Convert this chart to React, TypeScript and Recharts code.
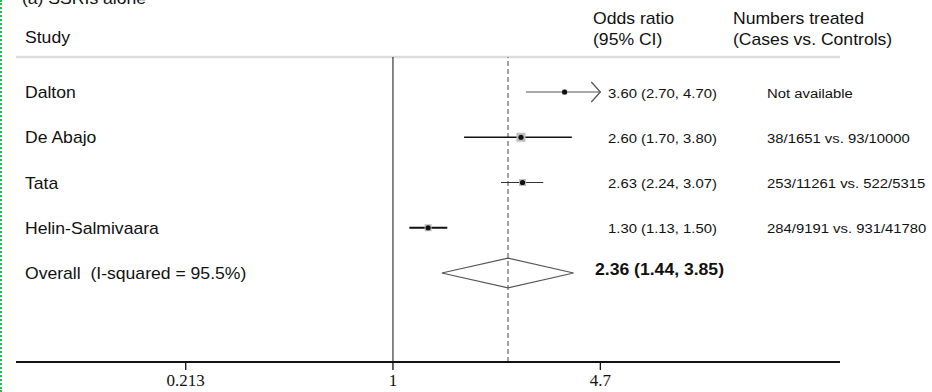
import React from 'react';
import { ComposedChart, Scatter, XAxis, YAxis, ReferenceLine } from 'recharts';

// study rows (odds ratios with 95% CI)
const studies = ['Dalton', 'De Abajo', 'Tata', 'Helin-Salmivaara'];
const oddsRatios = [3.6, 2.6, 2.63, 1.3];
const ciLower = [2.7, 1.7, 2.24, 1.13];
const ciUpper = [4.7, 3.8, 3.07, 1.5];
const orLabels = ['3.60 (2.70, 4.70)', '2.60 (1.70, 3.80)', '2.63 (2.24, 3.07)', '1.30 (1.13, 1.50)'];
const numbersTreated = ['Not available', '38/1651 vs. 93/10000', '253/11261 vs. 522/5315', '284/9191 vs. 931/41780'];

// pooled estimate
const overallLabel = 'Overall\u00a0\u00a0(I-squared = 95.5%)';
const overallOR = 2.36;
const overallLower = 1.44;
const overallUpper = 3.85;
const overallText = '2.36 (1.44, 3.85)';

// axis ticks
const tickValues = [0.213, 1, 4.7];
const tickLabels = ['0.213', '1', '4.7'];

const W = 932;
const H = 392;
const SANS = '"Liberation Sans", Arial, Helvetica, sans-serif';
const SERIF = '"Liberation Serif", "Times New Roman", serif';

// x axis is log-scaled (natural log of odds ratio)
const XMIN = -2.813;
const XMAX = 3.336;
// rows: 0..3 studies, 4 overall; domain covers the area under the header rule
const YMIN = -0.773;
const YMAX = 5.967;
const DIAMOND_H = 0.33;

const boxSize: { [k: string]: number } = { Dalton: 5, 'De Abajo': 9, Tata: 7, 'Helin-Salmivaara': 7 };
const ciColor: { [k: string]: string } = { Dalton: '#555', 'De Abajo': '#111', Tata: '#333', 'Helin-Salmivaara': '#111' };
const ciWidth: { [k: string]: number } = { Dalton: 1.2, 'De Abajo': 1.4, Tata: 1.2, 'Helin-Salmivaara': 2 };

const ln = Math.log;

const pointData = studies.map((s, i) => ({ x: ln(oddsRatios[i]), y: i, name: s }));
const rowText = studies.map((s, i) => ({ x: XMIN, y: i, name: s, or: orLabels[i], n: numbersTreated[i] }));
const diamondData = [
  { x: ln(overallLower), y: 4 },
  { x: ln(overallOR), y: 4 - DIAMOND_H },
  { x: ln(overallUpper), y: 4 },
  { x: ln(overallOR), y: 4 + DIAMOND_H },
  { x: ln(overallLower), y: 4 },
];

// the source figure is slightly stretched horizontally
const T = ({ x, y, size, bold, children }: any) => (
  <text
    transform={`translate(${x},${y}) scale(1.1,1)`}
    dominantBaseline="central"
    fontSize={size}
    fontWeight={bold ? 'bold' : 'normal'}
    fontFamily={SANS}
    fill="#111"
  >
    {children}
  </text>
);

const PointShape = (props: any) => {
  const { cx, cy, payload } = props;
  const s = boxSize[payload.name] || 6;
  return (
    <g>
      <rect x={cx - s / 2} y={cy - s / 2} width={s} height={s} fill="#bdbdbd" />
      <circle cx={cx} cy={cy} r={2.6} fill="#111" />
    </g>
  );
};

const RowTextShape = (props: any) => {
  const { cy, payload } = props;
  return (
    <g>
      <T x={25} y={cy + 1} size={16}>{payload.name}</T>
      <T x={608} y={cy + 1} size={13.5}>{payload.or}</T>
      <T x={767} y={cy + 1} size={13.5}>{payload.n}</T>
    </g>
  );
};

const OverallTextShape = (props: any) => {
  const { cy } = props;
  return (
    <g>
      <T x={25} y={cy + 1} size={16}>{overallLabel}</T>
      <T x={595} y={cy - 3} size={16} bold>{overallText}</T>
    </g>
  );
};

const None = () => <g />;

const ArrowEnd = (props: any) => {
  const { cx, cy, index } = props;
  if (index !== 1) return <g />;
  return <path d={`M${cx - 9},${cy - 10} L${cx},${cy} L${cx - 9},${cy + 10}`} fill="none" stroke="#555" strokeWidth={1.3} />;
};

const App = () => {
  return (
    <div style={{ position: 'absolute', left: 0, top: 0, width: W, height: H, background: '#fff', overflow: 'hidden' }}>
      <div style={{ position: 'absolute', left: 0, top: 0, bottom: 0, borderLeft: '2px dotted #1fbf4c' }} />
      <svg width={W} height={H} style={{ position: 'absolute', left: 0, top: 0 }}>
        <text x={20} y={4} fontSize={16} fontFamily={SANS} fill="#111" transform="scale(1.1,1)">(a) SSRIs alone</text>
        <T x={25} y={38} size={16}>Study</T>
        <T x={593} y={19} size={16}>Odds ratio</T>
        <T x={593} y={40} size={16}>(95% CI)</T>
        <T x={733} y={19} size={16}>Numbers treated</T>
        <T x={733} y={40} size={16}>(Cases vs. Controls)</T>
      </svg>
      <div style={{ position: 'absolute', left: 0, top: 0 }}>
        <ComposedChart width={W} height={H} margin={{ top: 57, right: 92, bottom: 0, left: 16 }}>
          <XAxis
            type="number"
            dataKey="x"
            domain={[XMIN, XMAX]}
            ticks={tickValues.map(ln)}
            tickFormatter={(v: number) => {
              const k = tickValues.findIndex(t => Math.abs(ln(t) - v) < 1e-6);
              return k >= 0 ? tickLabels[k] : '';
            }}
            axisLine={{ stroke: '#111', strokeWidth: 2 }}
            tickLine={{ stroke: '#111', strokeWidth: 1.3 }}
            tickSize={8}
            tickMargin={4}
            tick={{ fill: '#111', fontSize: 17, fontFamily: SERIF }}
            height={30}
          />
          <YAxis type="number" dataKey="y" domain={[YMIN, YMAX]} reversed hide />
          <ReferenceLine y={YMIN} stroke="#dcdcdc" strokeWidth={2.5} />
          <ReferenceLine x={0} stroke="#111" strokeWidth={1} />
          <ReferenceLine x={ln(overallOR)} stroke="#666" strokeWidth={1.2} strokeDasharray="5 3" />

          {studies.map((s, i) => (
            <Scatter
              key={s}
              data={[{ x: ln(ciLower[i]), y: i }, { x: ln(ciUpper[i]), y: i }]}
              line={{ stroke: ciColor[s], strokeWidth: ciWidth[s] }}
              shape={s === 'Dalton' ? ArrowEnd : None}
              isAnimationActive={false}
            />
          ))}
          <Scatter data={pointData} shape={PointShape} isAnimationActive={false} />
          <Scatter
            data={diamondData}
            line={{ stroke: '#555', strokeWidth: 1.2 }}
            shape={None}
            isAnimationActive={false}
          />
          <Scatter data={rowText} shape={RowTextShape} isAnimationActive={false} />
          <Scatter data={[{ x: XMIN, y: 4 }]} shape={OverallTextShape} isAnimationActive={false} />
        </ComposedChart>
      </div>
    </div>
  );
};

export default App;
